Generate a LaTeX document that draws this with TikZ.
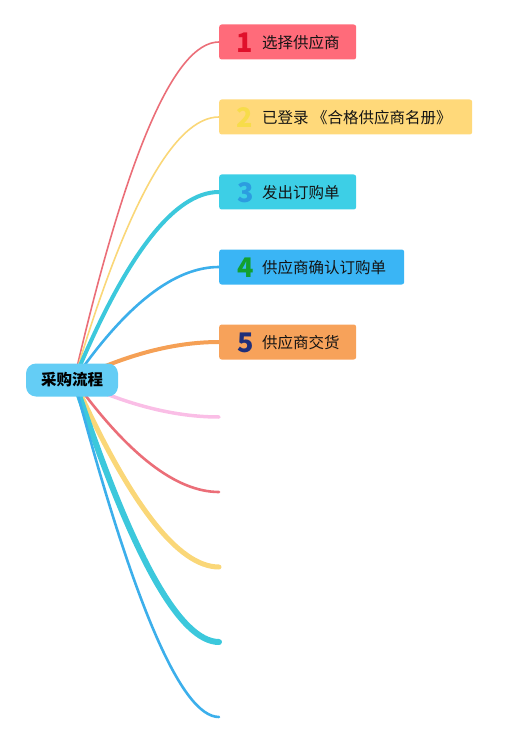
\documentclass[tikz,border=0pt]{standalone}
\usepackage{fontspec}
\setmainfont{Noto Sans CJK SC}
\usetikzlibrary{calc}
\definecolor{rootc}{RGB}{100,205,245}
\definecolor{boxa}{RGB}{255,107,122}
\definecolor{boxb}{RGB}{255,217,122}
\definecolor{boxc}{RGB}{61,207,230}
\definecolor{boxd}{RGB}{58,181,245}
\definecolor{boxe}{RGB}{247,162,90}
\definecolor{numa}{RGB}{224,16,43}
\definecolor{numb}{RGB}{247,220,74}
\definecolor{numc}{RGB}{44,157,224}
\definecolor{numd}{RGB}{18,160,47}
\definecolor{nume}{RGB}{31,47,122}
\definecolor{ered}{RGB}{235,110,120}
\definecolor{eyel}{RGB}{250,215,120}
\definecolor{ecya}{RGB}{60,200,220}
\definecolor{eblu}{RGB}{60,175,235}
\definecolor{eora}{RGB}{245,160,85}
\definecolor{epin}{RGB}{250,190,230}
\definecolor{txt}{RGB}{20,20,20}
\pgfdeclarelayer{bg}
\pgfsetlayers{bg,main}
\begin{document}
\begin{tikzpicture}[x=1pt,y=-1pt,
  stepbox/.style={rectangle,rounded corners=2.5pt,minimum height=35pt,anchor=west,inner sep=0pt},
  numlab/.style={font=\fontsize{27}{27}\selectfont\bfseries,inner sep=0pt},
  steplab/.style={font=\fontsize{15.5}{16}\selectfont,text=txt,anchor=west,inner sep=0pt},
  rootbox/.style={rectangle,rounded corners=10pt,fill=rootc,minimum width=92pt,minimum height=33pt,inner sep=0pt,font=\fontsize{15.5}{16}\selectfont\bfseries,text=black},
  edge/.style={line cap=round}
]
\useasboundingbox (0,0) rectangle (517,743);
% root
\node[rootbox] (root) at (72,380) {采购流程};
\coordinate (o) at (74,380);
% step boxes
\node[stepbox,fill=boxa,minimum width=137pt] (n1) at (219,42) {};
\node[numlab,text=numa] (k1) at (245,43) {1};
\node[steplab] (t1) at (262,43) {选择供应商};
\node[stepbox,fill=boxb,minimum width=253pt] (n2) at (219,117) {};
\node[numlab,text=numb] (k2) at (245,118) {2};
\node[steplab] (t2) at (262,118) {已登录 《合格供应商名册》};
\node[stepbox,fill=boxc,minimum width=137pt] (n3) at (219,192) {};
\node[numlab,text=numc] (k3) at (246,193) {3};
\node[steplab] (t3) at (262,193) {发出订购单};
\node[stepbox,fill=boxd,minimum width=185pt] (n4) at (219,267) {};
\node[numlab,text=numd] (k4) at (246,268) {4};
\node[steplab] (t4) at (262,268) {供应商确认订购单};
\node[stepbox,fill=boxe,minimum width=137pt] (n5) at (219,342) {};
\node[numlab,text=nume] (k5) at (246,343) {5};
\node[steplab] (t5) at (262,343) {供应商交货};
% free ends
\coordinate (f1) at (219,417);
\coordinate (f2) at (219,492);
\coordinate (f3) at (219,567);
\coordinate (f4) at (219,642);
\coordinate (f5) at (219,717);
% quadratic control points
\coordinate (c1) at (152,42);
\coordinate (c2) at (152,117);
\coordinate (c3) at (152,192);
\coordinate (c4) at (152,267);
\coordinate (c5) at (152,342);
\coordinate (d1) at (152,417);
\coordinate (d2) at (155,492);
\coordinate (d3) at (158,567);
\coordinate (d4) at (160,642);
\coordinate (d5) at (163,717);
\begin{pgfonlayer}{bg}
\draw[edge,ered,line width=1.6pt] (o) .. controls ($(o)!0.667!(c1)$) and ($(n1.west)!0.667!(c1)$) .. (n1.west);
\draw[edge,eyel,line width=1.6pt] (o) .. controls ($(o)!0.667!(c2)$) and ($(n2.west)!0.667!(c2)$) .. (n2.west);
\draw[edge,ecya,line width=4pt] (o) .. controls ($(o)!0.667!(c3)$) and ($(n3.west)!0.667!(c3)$) .. (n3.west);
\draw[edge,eblu,line width=2.6pt] (o) .. controls ($(o)!0.667!(c4)$) and ($(n4.west)!0.667!(c4)$) .. (n4.west);
\draw[edge,eora,line width=4pt] (o) .. controls ($(o)!0.667!(c5)$) and ($(n5.west)!0.667!(c5)$) .. (n5.west);
\draw[edge,epin,line width=3.5pt] (o) .. controls ($(o)!0.667!(d1)$) and ($(f1)!0.667!(d1)$) .. (f1);
\draw[edge,ered,line width=2.6pt] (o) .. controls ($(o)!0.667!(d2)$) and ($(f2)!0.667!(d2)$) .. (f2);
\draw[edge,eyel,line width=5pt] (o) .. controls ($(o)!0.667!(d3)$) and ($(f3)!0.667!(d3)$) .. (f3);
\draw[edge,ecya,line width=6pt] (o) .. controls ($(o)!0.667!(d4)$) and ($(f4)!0.667!(d4)$) .. (f4);
\draw[edge,eblu,line width=2.6pt] (o) .. controls ($(o)!0.667!(d5)$) and ($(f5)!0.667!(d5)$) .. (f5);
\end{pgfonlayer}
\end{tikzpicture}
\end{document}
